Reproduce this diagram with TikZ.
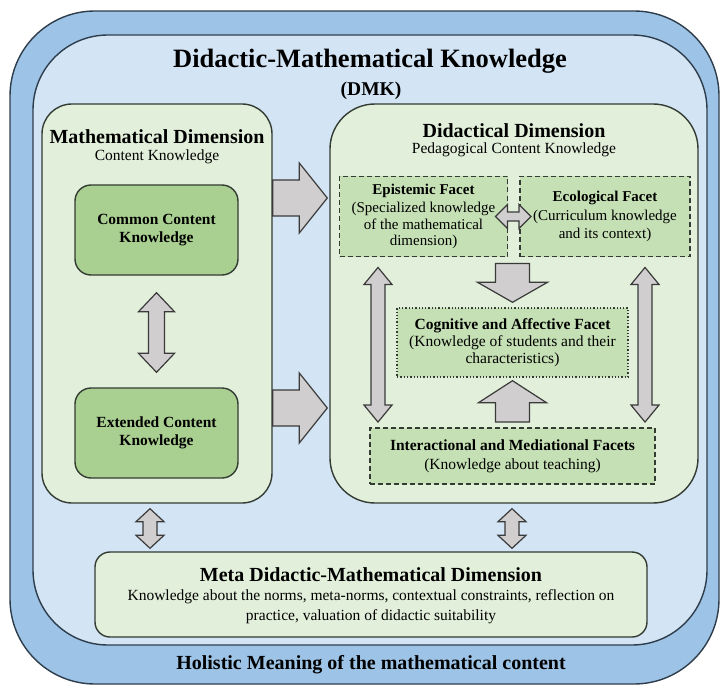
\documentclass[tikz,border=0pt]{standalone}
\usepackage{fontspec}
\setmainfont{Liberation Serif}
\usetikzlibrary{calc}
\definecolor{outerblue}{HTML}{9DC3E6}
\definecolor{innerblue}{HTML}{D3E4F4}
\definecolor{frameline}{HTML}{2E3D4C}
\definecolor{boxline}{HTML}{333B33}
\definecolor{lightgreen}{HTML}{E2EFDA}
\definecolor{midgreen}{HTML}{A9CF91}
\definecolor{facetgreen}{HTML}{C5E0B4}
\definecolor{arrowfill}{HTML}{D0CECE}
\definecolor{arrowline}{HTML}{3A3A3A}
\tikzset{
  outerbox/.style={draw=frameline, fill=outerblue, line width=1.4pt},
  innerbox/.style={draw=frameline, fill=innerblue, line width=1.4pt},
  dimbox/.style={draw=boxline, fill=lightgreen, line width=1.4pt},
  kbox/.style={draw=boxline, fill=midgreen, line width=1.4pt, rounded corners=16pt,
    minimum width=163pt, minimum height=90pt, align=center,
    font=\fontsize{15.5}{18}\selectfont\bfseries},
  facet/.style={draw=boxline, fill=facetgreen, line width=1.9pt, dash pattern=on 5pt off 3pt,
    align=center, inner sep=0pt},
  dotfacet/.style={draw=boxline, fill=facetgreen, line width=1.4pt, dash pattern=on 1.3pt off 2pt,
    align=center, inner sep=0pt},
  head/.style={font=\fontsize{20}{22}\selectfont\bfseries},
  sub/.style={font=\fontsize{15.5}{18}\selectfont},
  arrowshape/.style={draw=arrowline, fill=arrowfill, line width=1.2pt, line join=miter},
}
% single block arrow: #1 from, #2 to, #3 shaft half width, #4 head half width, #5 head length
\newcommand\blockarrow[5]{%
  \coordinate (tmpH) at ($(#2)!#5!(#1)$);
  \path[arrowshape] ($(#1)!#3!90:(#2)$) -- ($(tmpH)!#3!90:(#2)$) -- ($(tmpH)!#4!90:(#2)$)
    -- (#2) -- ($(tmpH)!#4!-90:(#2)$) -- ($(tmpH)!#3!-90:(#2)$) -- ($(#1)!#3!-90:(#2)$) -- cycle;}
% double block arrow
\newcommand\dblarrow[5]{%
  \coordinate (tmpA) at ($(#1)!#5!(#2)$);
  \coordinate (tmpB) at ($(#2)!#5!(#1)$);
  \path[arrowshape] (#1) -- ($(tmpA)!#4!90:(#2)$) -- ($(tmpA)!#3!90:(#2)$) -- ($(tmpB)!#3!90:(#2)$)
    -- ($(tmpB)!#4!90:(#2)$) -- (#2) -- ($(tmpB)!#4!-90:(#2)$) -- ($(tmpB)!#3!-90:(#2)$)
    -- ($(tmpA)!#3!-90:(#2)$) -- ($(tmpA)!#4!-90:(#2)$) -- cycle;}
\begin{document}
\begin{tikzpicture}[x=1pt,y=-1pt]
\useasboundingbox (0,0) rectangle (725,687);
\node[outerbox, minimum width=709pt, minimum height=673pt, rounded corners=85pt] (outer) at (364.5,347.5) {};
\node[innerbox, minimum width=674pt, minimum height=610pt, rounded corners=75pt] (inner) at (370,340) {};
\node[font=\fontsize{26.5}{30}\selectfont\bfseries] (title) at (370,61) {Didactic-Mathematical Knowledge};
\node[font=\fontsize{19.5}{22}\selectfont\bfseries] (dmk) at (371,91) {(DMK)};
% left dimension
\node[dimbox, minimum width=230pt, minimum height=399pt, rounded corners=30pt] (L) at (157,303.5) {};
\node[head] (Lt) at (157,137) {Mathematical Dimension};
\node[sub] (Ls) at (157,157) {Content Knowledge};
\node[kbox] (cck) at (156.5,230) {Common Content\\Knowledge};
\node[kbox] (eck) at (156.5,433) {Extended Content\\Knowledge};
% right dimension
\node[dimbox, minimum width=368pt, minimum height=399pt, rounded corners=45pt] (R) at (514,303.5) {};
\node[head] (Rt) at (514,131) {Didactical Dimension};
\node[sub] (Rs) at (514,150) {Pedagogical Content Knowledge};
\node[facet, minimum width=168pt, minimum height=80pt, font=\fontsize{15}{16.5}\selectfont] (E) at (423.5,216.5)
  {\textbf{Epistemic Facet}\\[2pt](Specialized knowledge\\of the mathematical\\dimension)};
\node[facet, minimum width=170pt, minimum height=80pt, font=\fontsize{15}{18.5}\selectfont] (C) at (605,216.5)
  {\textbf{Ecological Facet}\\(Curriculum knowledge\\and its context)};
\node[dotfacet, minimum width=231pt, minimum height=69pt, font=\fontsize{15.5}{16.7}\selectfont] (G) at (512.5,342.5)
  {\textbf{Cognitive and Affective Facet}\\(Knowledge of students and their\\characteristics)};
\node[facet, minimum width=285pt, minimum height=56pt, font=\fontsize{15.5}{19}\selectfont] (I) at (512.5,456)
  {\textbf{Interactional and Mediational Facets}\\(Knowledge about teaching)};
% meta dimension
\node[dimbox, minimum width=552pt, minimum height=85pt, rounded corners=15pt] (M) at (371,594.5) {};
\node[head] (Mt) at (371,575) {Meta Didactic-Mathematical Dimension};
\node[sub, align=center, font=\fontsize{15.5}{20}\selectfont] (Ms) at (371,607)
  {Knowledge about the norms, meta-norms, contextual constraints, reflection on\\practice, valuation of didactic suitability};
\node[font=\fontsize{20}{22}\selectfont\bfseries] (hol) at (371,665) {Holistic Meaning of the mathematical content};
% helper coordinates
\coordinate (yA1) at (0,198);
\coordinate (yA2) at (0,408);
\coordinate (xl) at (378,0);
\coordinate (xr) at (645,0);
\coordinate (xb1) at (150,0);
\coordinate (xb2) at (512,0);
% arrows between dimensions
\coordinate (a1s) at (L.east |- yA1); \coordinate (a1e) at ([xshift=-2pt]R.west |- yA1);
\blockarrow{a1s}{a1e}{18pt}{35pt}{28pt}
\coordinate (a2s) at (L.east |- yA2); \coordinate (a2e) at ([xshift=-2pt]R.west |- yA2);
\blockarrow{a2s}{a2e}{18pt}{35pt}{28pt}
% left double arrow
\coordinate (d1s) at ($(cck.south)+(0,17)$); \coordinate (d1e) at ($(eck.north)+(0,-15)$);
\dblarrow{d1s}{d1e}{8pt}{18pt}{19pt}
% epistemic <-> ecological
\coordinate (d2s) at ($(E.east)+(-13,0)$); \coordinate (d2e) at ($(C.west)+(12,0)$);
\dblarrow{d2s}{d2e}{4.5pt}{12pt}{12pt}
% down arrow to cognitive
\coordinate (dns) at ($(G.north |- E.south)+(0,6)$); \coordinate (dne) at ($(G.north)+(0,-5)$);
\blockarrow{dns}{dne}{17pt}{35pt}{20pt}
% up arrow to cognitive
\coordinate (ups) at ($(I.north)+(0,-5)$); \coordinate (upe) at ($(G.south)+(0,3)$);
\blockarrow{ups}{upe}{17pt}{34pt}{22pt}
% long double arrows
\coordinate (l1s) at ($(xl |- E.south)+(0,10)$); \coordinate (l1e) at ($(xl |- I.north)+(0,-5)$);
\dblarrow{l1s}{l1e}{7pt}{14pt}{17pt}
\coordinate (l2s) at ($(xr |- C.south)+(0,10)$); \coordinate (l2e) at ($(xr |- I.north)+(0,-5)$);
\dblarrow{l2s}{l2e}{7pt}{14pt}{17pt}
% bottom double arrows
\coordinate (b1s) at ($(xb1 |- L.south)+(0,5)$); \coordinate (b1e) at ($(xb1 |- M.north)+(0,-3)$);
\dblarrow{b1s}{b1e}{7pt}{14pt}{13pt}
\coordinate (b2s) at ($(xb2 |- R.south)+(0,5)$); \coordinate (b2e) at ($(xb2 |- M.north)+(0,-3)$);
\dblarrow{b2s}{b2e}{7pt}{14pt}{13pt}
\end{tikzpicture}
\end{document}
